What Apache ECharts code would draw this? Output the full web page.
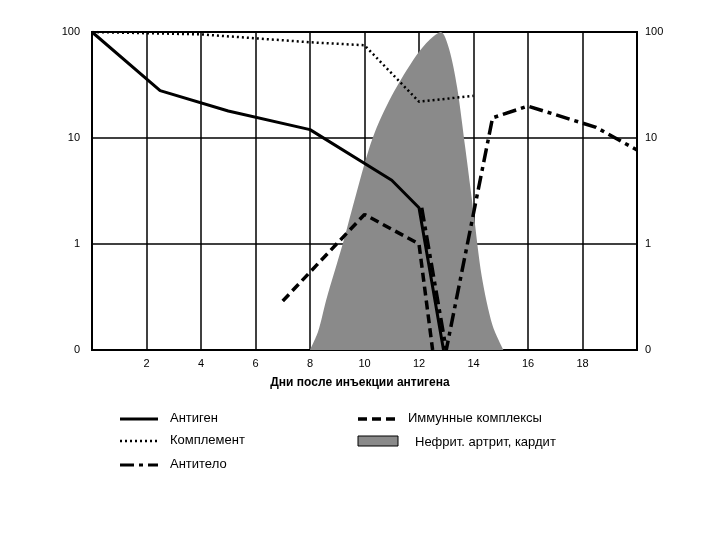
<!DOCTYPE html><html><head><meta charset="utf-8"><script src="https://cdn.jsdelivr.net/npm/echarts@6/dist/echarts.min.js"></script></head><body style="margin:0;background:#fff"><div id="c" style="width:720px;height:540px"></div><script>
const antigen=[[0,100],[2.5,28],[5,18],[8,12],[11,4],[12,2.2],[12.9,0.1]];
const complement=[[0,100],[4,95],[8,80],[10,75],[12,22],[14,25]];
const complexes=[[7,0.29],[10,1.9],[12,1.0],[12.5,0.1]];
const antibody=[[12.1,2.2],[13,0.1],[14.7,15.5],[16,20],[18.5,12.6],[20,7.7]];
const nephritis=[[8,0.1],[8.3,0.15],[8.6,0.3],[9.2,1],[9.7,3],[10.3,10],[11,25],[11.9,60],[12.4,85],[12.8,100],[13.1,70],[13.4,30],[13.7,8],[14,2],[14.3,0.5],[14.7,0.17],[15.1,0.1]];
const xTicks=[2,4,6,8,10,12,14,16,18];
const yLabels={0.1:'0',1:'1',10:'10',100:'100'};
const ch=echarts.init(document.getElementById('c'));
const yAx=(pos)=>({type:'log',min:0.1,max:100,position:pos,axisLine:{show:true,lineStyle:{color:'#000',width:2}},axisTick:{show:false},splitLine:{show:pos==='left',lineStyle:{color:'#000',width:1.5}},axisLabel:{color:'#000',fontSize:11,fontFamily:'Liberation Sans',margin:pos==='left'?12:8,formatter:v=>yLabels[+v.toPrecision(3)]||''}});
const L=(name,data,type,w)=>({name,type:'line',data,symbol:'none',z:3,lineStyle:{color:'#000',width:w,type}});
ch.setOption({animation:false,
grid:{left:92,right:83,top:32,bottom:190,show:true,borderColor:'#000',borderWidth:2},
xAxis:{type:'value',min:0,max:20,interval:2,axisLine:{lineStyle:{color:'#000',width:2}},axisTick:{show:false},splitLine:{lineStyle:{color:'#000',width:1.5}},axisLabel:{color:'#000',fontSize:11,fontFamily:'Liberation Sans',formatter:v=>xTicks.includes(v)?v:''}},
yAxis:[yAx('left'),yAx('right')],
series:[
{type:'line',data:nephritis,symbol:'none',smooth:0.3,z:1,lineStyle:{width:0},areaStyle:{color:'#8a8a8a',origin:'start',opacity:1}},
L('a',antigen,'solid',3),
L('c',complement,[2,3],2.5),
L('i',complexes,[9,5],3.5),
L('b',antibody,[14,5,4,5],3.5)
],
graphic:[
{type:'text',left:'center',top:377,style:{text:'Дни после инъекции антигена',font:'bold 12px Liberation Sans',fill:'#000'}},
...[['Антиген',[0],3,419,120],['Комплемент',[2,3],2.5,441,120],['Антитело',[14,5,4,5],3,465,120],['Иммунные комплексы',[9,5],3.5,419,358]].map(([t,d,w,y,x])=>[
{type:'line',shape:{x1:x,y1:y,x2:x+38,y2:y},style:{stroke:'#000',lineWidth:w,lineDash:d.length>1?d:null}},
{type:'text',x:x+50,y:y-7,style:{text:t,font:'13px Liberation Sans',fill:'#000'}}]).flat(),
{type:'rect',shape:{x:358,y:436,width:40,height:10},style:{fill:'#8a8a8a',stroke:'#000',lineWidth:1}},
{type:'text',x:415,y:436,style:{text:'Нефрит. артрит, кардит',font:'13px Liberation Sans',fill:'#000'}}
]});
</script></body></html>
